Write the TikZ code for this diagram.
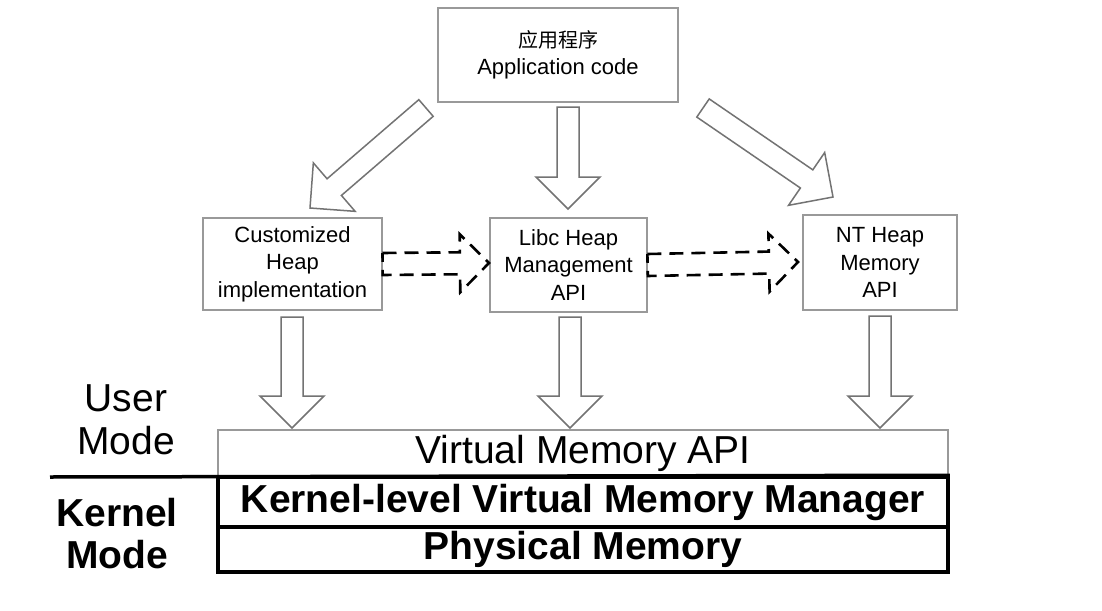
\documentclass[tikz,border=0pt]{standalone}
\usepackage{fontspec}
\setmainfont{Liberation Sans}
\newfontfamily\cjk{Noto Sans CJK SC}
\usetikzlibrary{calc}

\def\shafthw{11pt}
\def\headhw{32pt}
\def\headlen{32pt}
\newcommand{\hollowarrow}[3][]{%
  \coordinate (ha-base) at ($(#3)!\headlen!(#2)$);
  \draw[#1] ($(#2)!\shafthw!90:(#3)$) -- ($(ha-base)!\shafthw!-90:(#2)$)
    -- ($(ha-base)!\headhw!-90:(#2)$) -- (#3) -- ($(ha-base)!\headhw!90:(#2)$)
    -- ($(ha-base)!\shafthw!90:(#2)$) -- ($(#2)!\shafthw!-90:(#3)$) -- cycle;}

\begin{document}
\begin{tikzpicture}[
  x=1pt, y=-1pt,
  box/.style={draw=black!40, line width=1.2pt, align=center, inner sep=0pt,
    font=\fontsize{22}{27.5}\selectfont},
  layer/.style={draw=black, line width=3.5pt, inner sep=0pt, minimum width=730pt,
    font=\fontsize{39}{43}\selectfont\bfseries},
  modelabel/.style={align=center, inner sep=0pt, font=\fontsize{39}{43.5}\selectfont},
  fat/.style={draw=black!55, line width=1.5pt, fill=white, line join=miter},
  dasharrow/.style={draw=black, line width=2.6pt, dash pattern=on 14pt off 8pt}
]
\useasboundingbox[fill=white] (0,0) rectangle (1102,610);

\node[box, minimum width=240pt, minimum height=94pt] (app) at (558,55)
  {{\cjk\fontsize{20}{24}\selectfont 应用程序}\\Application code};
\node[box, minimum width=179pt, minimum height=92pt] (cust) at (292.5,264)
  {Customized\\Heap\\implementation};
\node[box, minimum width=157pt, minimum height=94pt] (libc) at (568.5,265)
  {Libc Heap\\Management\\API};
\node[box, minimum width=154pt, minimum height=95pt] (nt) at (880,262.5)
  {NT Heap\\Memory\\API};

\node[box, minimum width=730pt, minimum height=47pt, font=\fontsize{39}{43}\selectfont]
  (vm) at (583,453.5) {Virtual Memory API};
\node[layer, minimum height=50pt] (kvm) at (583,502) {Kernel-level Virtual Memory Manager};
\node[layer, minimum height=45pt] (phys) at (583,549.5) {Physical Memory};

\node[modelabel] (user) at (126,420) {User\\Mode};
\node[modelabel, font=\fontsize{39}{42}\selectfont\bfseries] (kernel) at (117,534) {Kernel\\Mode};
\coordinate (sep) at (50,477);
\draw[line width=3.5pt] (sep) -- (kvm.north east);

% application code to the heap layers
\coordinate (a1) at (426,108);  \coordinate (a2) at (310,208);
\coordinate (b1) at (568,107);  \coordinate (b2) at (568,209);
\coordinate (c1) at (703,108);  \coordinate (c2) at (833,197);
\hollowarrow[fat]{a1}{a2}
\hollowarrow[fat]{b1}{b2}
\hollowarrow[fat]{c1}{c2}

% heap layers to virtual memory api
\coordinate (d1) at (292,317);  \coordinate (d2) at (292,428);
\coordinate (e1) at (570,317);  \coordinate (e2) at (570,428);
\coordinate (f1) at (880,316);  \coordinate (f2) at (880,428);
\hollowarrow[fat]{d1}{d2}
\hollowarrow[fat]{e1}{e2}
\hollowarrow[fat]{f1}{f2}

% dashed calls between the heap layers
\def\headhw{29pt}
\def\headlen{29pt}
\coordinate (g1) at (cust.east);  \coordinate (g2) at (489,263);
\coordinate (h1) at (libc.east);  \coordinate (h2) at (798,262);
\hollowarrow[dasharrow]{g1}{g2}
\hollowarrow[dasharrow]{h1}{h2}

\end{tikzpicture}
\end{document}
